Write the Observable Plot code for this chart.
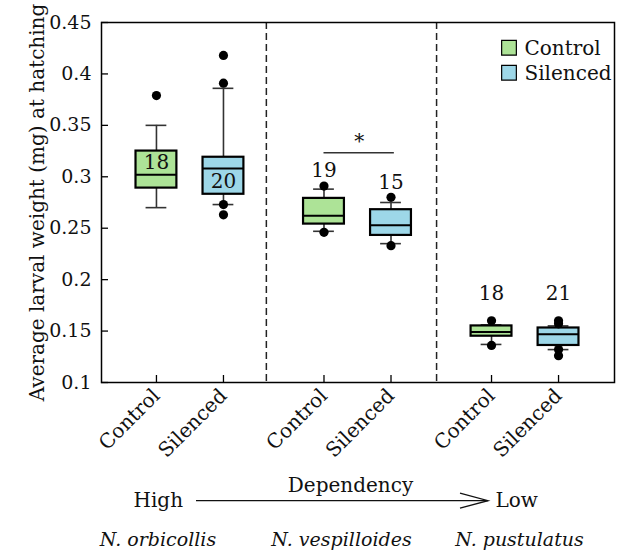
<!DOCTYPE html>
<html>
<head>
<meta charset="utf-8">
<script src="https://cdn.jsdelivr.net/npm/d3@7"></script>
<script src="https://cdn.jsdelivr.net/npm/@observablehq/plot@0.6"></script>
<style>
  body { margin: 0; background: #fff; }
  #chart svg { display: block; }
</style>
</head>
<body>
<div id="chart"></div>
<script>
// ---- data ----
const species = ["N. orbicollis", "N. vespilloides", "N. pustulatus"];
const treatments = ["Control", "Silenced"];
const sampleSizes = [18, 20, 19, 15, 18, 21];
const whiskerLow  = [0.270, 0.273, 0.247, 0.235, 0.137, 0.132];
const q1          = [0.289, 0.283, 0.254, 0.243, 0.145, 0.136];
const median      = [0.302, 0.308, 0.262, 0.253, 0.149, 0.147];
const q3          = [0.325, 0.319, 0.279, 0.268, 0.155, 0.153];
const whiskerHigh = [0.350, 0.386, 0.288, 0.275, 0.156, 0.155];
const outliers = [
  [0.379],
  [0.418, 0.391, 0.273, 0.263],
  [0.291, 0.246],
  [0.280, 0.233],
  [0.160, 0.136],
  [0.160, 0.157, 0.132, 0.126]
];
const yTicks = [0.1, 0.15, 0.2, 0.25, 0.3, 0.35, 0.4, 0.45];
const yLabel = "Average larval weight (mg) at hatching";
const significance = ["*"];
const dependencyText = ["High", "Dependency", "Low"];
const fills = ["#ade397", "#9dd7e8"];

// ---- layout helpers ----
const BOX = 0.61, CAP = 0.31;
const xPos = (g, t) => g * 5 + t * 2 + 1;
const separators = [4.28, 9.36];
const labelMode = ["upper", "lower", "above", "above", "above", "above"];
const labelGap  = [0, 0, 15, 15, 27, 27];

const boxes = sampleSizes.map((n, i) => {
  const g = Math.floor(i / 2), t = i % 2;
  const top = Math.max(whiskerHigh[i], ...outliers[i]);
  let ly, ldy = 0;
  if (labelMode[i] === "upper") ly = (q3[i] + median[i]) / 2;
  else if (labelMode[i] === "lower") ly = (q1[i] + median[i]) / 2;
  else { ly = top; ldy = -labelGap[i]; }
  return {x: xPos(g, t), species: species[g], treatment: treatments[t], n,
          wlo: whiskerLow[i], q1: q1[i], med: median[i], q3: q3[i], whi: whiskerHigh[i],
          top, ly, ldy};
});
const points = boxes.flatMap((b, i) => outliers[i].map(v => ({x: b.x, y: v})));
const xTickLabel = new Map(boxes.map(b => [b.x, b.treatment]));
const sigBox = boxes.filter(b => b.species === species[1]);

function dependencyArrow(index, scales, values, dims) {
  const y = dims.height - dims.marginBottom + 118.7;
  const xa = dims.marginLeft + 95, xb = dims.marginLeft + 387;
  const g = d3.create("svg:g")
    .attr("fill", "none").attr("stroke", "#111").attr("stroke-width", 1.3);
  g.append("line").attr("x1", xa).attr("x2", xb).attr("y1", y).attr("y2", y);
  g.append("path").attr("d", `M${xb - 28},${y - 7.5}L${xb},${y}L${xb - 28},${y + 7.5}`);
  return g.node();
}

const T = {lineAnchor: "middle", fill: "#111"};
const W = 619, H = 551;
const chart = Plot.plot({
  width: W, height: H,
  marginLeft: 101, marginRight: 5, marginTop: 22, marginBottom: 169,
  style: {fontFamily: "DejaVu Serif", fontSize: "20px", background: "#fff", color: "#111"},
  x: {domain: [-0.64, 14.67]},
  y: {domain: [0.1, 0.45]},
  color: {domain: treatments, range: fills},
  marks: [
    Plot.ruleX(separators, {x: d => d, stroke: "#222", strokeWidth: 1.5, strokeDasharray: "7,4"}),
    // whiskers
    Plot.ruleX(boxes, {x: "x", y1: "wlo", y2: "q1", stroke: "#333", strokeWidth: 1.6}),
    Plot.ruleX(boxes, {x: "x", y1: "q3", y2: "whi", stroke: "#333", strokeWidth: 1.6}),
    Plot.ruleY(boxes, {y: "wlo", x1: d => d.x - CAP, x2: d => d.x + CAP, stroke: "#333", strokeWidth: 1.6}),
    Plot.ruleY(boxes, {y: "whi", x1: d => d.x - CAP, x2: d => d.x + CAP, stroke: "#333", strokeWidth: 1.6}),
    // boxes
    Plot.rect(boxes, {x1: d => d.x - BOX, x2: d => d.x + BOX, y1: "q1", y2: "q3",
      fill: "treatment", stroke: "#000", strokeWidth: 2.2}),
    Plot.ruleY(boxes, {y: "med", x1: d => d.x - BOX, x2: d => d.x + BOX, stroke: "#000", strokeWidth: 2}),
    // outliers
    Plot.dot(points, {x: "x", y: "y", r: 4.6, fill: "#000"}),
    // sample sizes
    Plot.text(boxes.filter(b => b.ldy === 0), {x: "x", y: "ly", text: "n", fontSize: 20, ...T}),
    ...boxes.filter(b => b.ldy !== 0).map(b =>
      Plot.text([b], {x: "x", y: "top", text: "n", dy: b.ldy, fontSize: 20, ...T})),
    // significance bracket
    Plot.ruleY([sigBox[0]], {y: "top", x1: () => sigBox[0].x, x2: () => sigBox[1].x + 0.1, dy: -33.4, stroke: "#333", strokeWidth: 1.5}),
    Plot.text(significance, {x: () => (sigBox[0].x + sigBox[1].x + 0.1) / 2, y: () => sigBox[0].top, text: d => d, dy: -44, fontSize: 20, ...T}),
    // frame & axes
    Plot.frame({stroke: "#000", strokeWidth: 1.5}),
    Plot.tickY(yTicks, {y: d => d, insetRight: 513 - 7, stroke: "#000", strokeWidth: 1.3}),
    Plot.tickX(boxes, {x: "x", insetTop: 360 - 7, stroke: "#000", strokeWidth: 1.3}),
    Plot.axisY({ticks: yTicks, tickSize: 0, tickPadding: 10, tickFormat: d => String(d), label: null, fontSize: 19}),
    Plot.axisX({ticks: boxes.map(b => b.x), tickSize: 0, tickPadding: 10, tickRotate: -45,
      tickFormat: d => xTickLabel.get(d), label: null, fontSize: 20}),
    Plot.text([yLabel], {frameAnchor: "left", dx: -64.4, rotate: -90, textAnchor: "middle", text: d => d, fontSize: 20, ...T}),
    // legend
    Plot.dot([0], {frameAnchor: "top-right", dx: -105.5, dy: 25.3, symbol: "square", r: 8.3, fill: fills[0], stroke: "#000", strokeWidth: 1.2}),
    Plot.dot([0], {frameAnchor: "top-right", dx: -105.5, dy: 50.2, symbol: "square", r: 8.3, fill: fills[1], stroke: "#000", strokeWidth: 1.2}),
    Plot.text([treatments[0]], {frameAnchor: "top-right", dx: -90, dy: 26.4, textAnchor: "start", text: d => d, fontSize: 20, ...T}),
    Plot.text([treatments[1]], {frameAnchor: "top-right", dx: -90, dy: 51, textAnchor: "start", text: d => d, fontSize: 20, ...T}),
    // dependency annotation
    Plot.text([dependencyText[0]], {frameAnchor: "bottom-left", dx: 32, dy: 118.3, textAnchor: "start", text: d => d, fontSize: 20, ...T}),
    Plot.text([dependencyText[1]], {frameAnchor: "bottom-left", dx: 249, dy: 103.3, textAnchor: "middle", text: d => d, fontSize: 20, ...T}),
    Plot.text([dependencyText[2]], {frameAnchor: "bottom-left", dx: 394, dy: 118.3, textAnchor: "start", text: d => d, fontSize: 20, ...T}),
    dependencyArrow,
    // species
    ...species.map((s, i) => Plot.text([s], {frameAnchor: "bottom-left", dx: [56.5, 240, 418][i], dy: 157.9,
      textAnchor: "middle", text: d => d, fontSize: 19, fontStyle: "italic", ...T}))
  ]
});
document.getElementById("chart").appendChild(chart);
</script>
</body>
</html>
